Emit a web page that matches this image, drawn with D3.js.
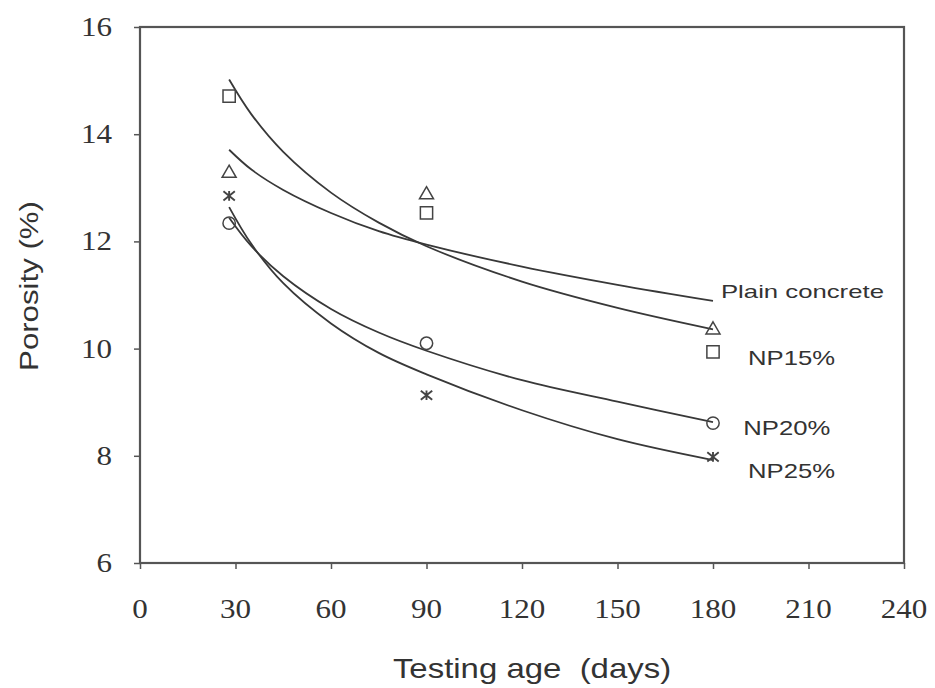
<!DOCTYPE html>
<html>
<head>
<meta charset="utf-8">
<script src="https://cdn.jsdelivr.net/npm/d3@7"></script>
<style>
  html, body { margin: 0; padding: 0; background: #fff; }
  svg { display: block; }
</style>
</head>
<body>
<svg id="chart" width="935" height="688"></svg>
<script>
// ---------- data ----------
const testAges = [28, 90, 180];
const plainConcrete = [13.27, 12.87, 10.35];
const np15 = [14.71, 12.53, 9.94];
const np20 = [12.34, 10.10, 8.61];
const np25 = [12.85, 9.13, 7.98];

// trend lines
const trendAges = [28, 35, 45, 60, 75, 90, 120, 150, 180];
const trendPlain = [13.71, 13.34, 12.96, 12.53, 12.19, 11.94, 11.53, 11.19, 10.89];
const trendNP15 = [15.02, 14.37, 13.67, 12.91, 12.35, 11.91, 11.25, 10.76, 10.36];
const trendNP20 = [12.44, 11.91, 11.35, 10.74, 10.30, 9.96, 9.41, 9.01, 8.63];
const trendNP25 = [12.64, 11.95, 11.22, 10.47, 9.92, 9.52, 8.85, 8.31, 7.92];

const xTicks = [0, 30, 60, 90, 120, 150, 180, 210, 240];
const yTicks = [6, 8, 10, 12, 14, 16];

const seriesNames = ["Plain concrete", "NP15%", "NP20%", "NP25%"];
const labelAges = [182.5, 191, 189.5, 191];
const labelLevels = [10.94, 9.69, 8.39, 7.59];

// ---------- layout ----------
const svg = d3.select("#chart");
const x = d3.scaleLinear().domain([0, 240]).range([140, 904]);
const y = d3.scaleLinear().domain([6, 16]).range([563, 27]);
const ink = "#383838";
const axisInk = "#555";

// frame
svg.append("rect")
  .attr("x", x(0)).attr("y", y(16))
  .attr("width", x(240) - x(0)).attr("height", y(6) - y(16))
  .attr("fill", "none").attr("stroke", axisInk).attr("stroke-width", 2.2);

// axes
const xAxis = svg.append("g").attr("transform", `translate(0,${y(6)})`)
  .call(d3.axisBottom(x).tickValues(xTicks).tickSize(6).tickFormat(""));
const yAxis = svg.append("g").attr("transform", `translate(${x(0)},0)`)
  .call(d3.axisLeft(y).tickValues(yTicks).tickSize(6).tickFormat(""));
[xAxis, yAxis].forEach(g => {
  g.select(".domain").remove();
  g.selectAll(".tick line").attr("stroke", axisInk).attr("stroke-width", 1.5);
});

function stretchedText(parent, tx, ty, str, opts) {
  return parent.append("text")
    .attr("transform", `translate(${tx},${ty}) rotate(${opts.rot || 0}) scale(${opts.sx || 1},1)`)
    .attr("text-anchor", opts.anchor || "start")
    .attr("font-family", opts.family)
    .attr("font-size", opts.size)
    .attr("fill", opts.fill || "#333")
    .style("white-space", "pre")
    .text(str);
}

const serif = "'Liberation Serif', 'Times New Roman', serif";
const sans = "'Liberation Sans', Arial, sans-serif";

xTicks.forEach(t => stretchedText(svg, x(t), 618, t, {family: serif, size: 27, sx: 1.15, anchor: "middle"}));
yTicks.forEach(t => stretchedText(svg, 112, y(t) + 9, t, {family: serif, size: 27, sx: 1.15, anchor: "end"}));

// axis titles
stretchedText(svg, 532, 678, "Testing age  (days)", {family: sans, size: 27, sx: 1.22, anchor: "middle"});
stretchedText(svg, 38, 286, "Porosity (%)", {family: sans, size: 26, sx: 1.2, anchor: "middle", rot: -90});

// trend lines
const line = d3.line().x((d, i) => x(trendAges[i])).y(d => y(d)).curve(d3.curveCatmullRom.alpha(0.5));
[trendPlain, trendNP15, trendNP20, trendNP25].forEach(tr => {
  svg.append("path").attr("d", line(tr))
    .attr("fill", "none").attr("stroke", ink).attr("stroke-width", 1.8);
});

// custom "x with vertical bar" marker
const symbolStarX = {
  draw(ctx, size) {
    const r = Math.sqrt(size) / 2;
    ctx.moveTo(-r, -r * 0.8); ctx.lineTo(r, r * 0.8);
    ctx.moveTo(-r, r * 0.8); ctx.lineTo(r, -r * 0.8);
    ctx.moveTo(0, -r * 0.85); ctx.lineTo(0, r * 0.85);
  }
};

// markers
const markerSpecs = [
  {vals: plainConcrete, type: d3.symbolTriangle, size: 85, sw: 1.5},
  {vals: np15, type: d3.symbolSquare, size: 150, sw: 1.5},
  {vals: np20, type: d3.symbolCircle, size: 120, sw: 1.5},
  {vals: np25, type: symbolStarX, size: 130, sw: 1.9}
];
markerSpecs.forEach(m => {
  svg.append("g").selectAll("path").data(m.vals).join("path")
    .attr("transform", (d, i) => `translate(${x(testAges[i])},${y(d)})`)
    .attr("d", d3.symbol().type(m.type).size(m.size))
    .attr("fill", "none").attr("stroke", "#444").attr("stroke-width", m.sw);
});

// series labels
seriesNames.forEach((name, i) => {
  svg.append("text")
    .attr("x", x(labelAges[i])).attr("y", y(labelLevels[i]))
    .attr("font-family", sans).attr("font-size", i === 0 ? 19 : 21)
    .attr("fill", "#333")
    .attr("textLength", i === 0 ? 163 : 87).attr("lengthAdjust", "spacingAndGlyphs")
    .text(name);
});
</script>
</body>
</html>
